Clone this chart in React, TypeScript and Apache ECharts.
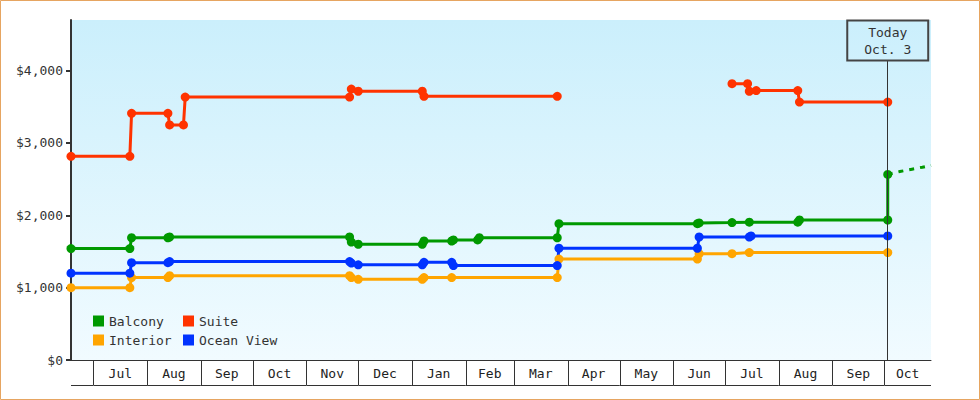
import React, { useEffect, useRef } from 'react';
import * as echarts from 'echarts';

const FONT = '"DejaVu Sans Mono", monospace';

const axisStart = '2012-06-18';
const axisEnd = '2013-10-28';
const todayDate = '2013-10-03';
const todayLabel = 'Today\nOct. 3';

const yTicks = [0, 1000, 2000, 3000, 4000];
const yMax = 4700;

const monthStarts = [
  '2012-06-01', '2012-07-01', '2012-08-01', '2012-09-01', '2012-10-01', '2012-11-01',
  '2012-12-01', '2013-01-01', '2013-02-01', '2013-03-01', '2013-04-01', '2013-05-01',
  '2013-06-01', '2013-07-01', '2013-08-01', '2013-09-01', '2013-10-01', '2013-11-01',
];
const monthLabels = ['Jun', 'Jul', 'Aug', 'Sep', 'Oct', 'Nov', 'Dec', 'Jan', 'Feb', 'Mar', 'Apr', 'May', 'Jun', 'Jul', 'Aug', 'Sep', 'Oct'];

const balcony: [string, number][] = [
  ['2012-06-18', 1540], ['2012-07-22', 1540], ['2012-07-23', 1690], ['2012-08-13', 1690],
  ['2012-08-14', 1700], ['2012-11-26', 1700], ['2012-11-27', 1630], ['2012-12-01', 1600],
  ['2013-01-07', 1600], ['2013-01-08', 1645], ['2013-01-24', 1645], ['2013-01-25', 1660],
  ['2013-02-08', 1660], ['2013-02-09', 1690], ['2013-03-26', 1690], ['2013-03-27', 1885],
  ['2013-06-15', 1885], ['2013-06-16', 1895], ['2013-07-05', 1900], ['2013-07-15', 1905],
  ['2013-08-12', 1905], ['2013-08-13', 1935], ['2013-10-03', 1935], ['2013-10-03', 2565],
];

const balconyForecast: [string, number][] = [
  ['2013-10-03', 2565], ['2013-10-10', 2605], ['2013-10-17', 2638], ['2013-10-23', 2665], ['2013-10-28', 2690],
];

const suite: [string, number | null][] = [
  ['2012-06-18', 2815], ['2012-07-22', 2815], ['2012-07-23', 3410], ['2012-08-13', 3410],
  ['2012-08-14', 3250], ['2012-08-22', 3250], ['2012-08-23', 3635], ['2012-11-26', 3635],
  ['2012-11-27', 3745], ['2012-12-01', 3715], ['2013-01-07', 3715], ['2013-01-08', 3645],
  ['2013-03-26', 3645], ['2013-05-01', null], ['2013-07-05', 3820], ['2013-07-14', 3820],
  ['2013-07-15', 3715], ['2013-07-19', 3725], ['2013-08-12', 3725], ['2013-08-13', 3565],
  ['2013-10-03', 3565],
];

const interior: [string, number][] = [
  ['2012-06-18', 1000], ['2012-07-22', 1000], ['2012-07-23', 1140], ['2012-08-13', 1140],
  ['2012-08-14', 1165], ['2012-11-26', 1165], ['2012-11-27', 1140], ['2012-12-01', 1115],
  ['2013-01-07', 1115], ['2013-01-08', 1140], ['2013-01-24', 1140], ['2013-03-26', 1140],
  ['2013-03-27', 1395], ['2013-06-15', 1395], ['2013-06-16', 1470], ['2013-07-05', 1470],
  ['2013-07-15', 1485], ['2013-10-03', 1485],
];

const oceanView: [string, number][] = [
  ['2012-06-18', 1200], ['2012-07-22', 1200], ['2012-07-23', 1345], ['2012-08-13', 1345],
  ['2012-08-14', 1360], ['2012-11-26', 1360], ['2012-11-27', 1340], ['2012-12-01', 1315],
  ['2013-01-07', 1315], ['2013-01-08', 1350], ['2013-01-24', 1350], ['2013-01-25', 1305],
  ['2013-03-26', 1305], ['2013-03-27', 1545], ['2013-06-15', 1545], ['2013-06-16', 1700],
  ['2013-07-15', 1700], ['2013-07-16', 1715], ['2013-10-03', 1715],
];

const COLORS = {
  Balcony: '#009900',
  Suite: '#ff3300',
  Interior: '#ffa500',
  'Ocean View': '#0033ff',
};

const ts = (s: string) => {
  const [y, m, d] = s.split('-').map(Number);
  return new Date(y, m - 1, d).getTime();
};

const toData = (arr: [string, number | null][]) => arr.map(([d, v]) => [ts(d), v]);

const lineSeries = (name: string, color: string, data: any[]) => ({
  name,
  type: 'line',
  data,
  symbol: 'circle',
  symbolSize: 9,
  showSymbol: true,
  showAllSymbol: true,
  connectNulls: false,
  lineStyle: { width: 3, color },
  itemStyle: { color },
  emphasis: { disabled: true },
  z: 3,
});

const legendBase = {
  orient: 'vertical',
  top: 314,
  itemWidth: 11,
  itemHeight: 11,
  itemGap: 5,
  icon: 'rect',
  padding: 0,
  selectedMode: false,
  textStyle: { fontFamily: FONT, fontSize: 13, color: '#333', lineHeight: 14 },
};

export default function App() {
  const ref = useRef<HTMLDivElement>(null);

  useEffect(() => {
    if (!ref.current) return;
    const chart = echarts.init(ref.current, undefined, { renderer: 'svg' });
    const option: any = {
      animation: false,
      backgroundColor: '#ffffff',
      grid: {
        left: 71,
        top: 20,
        right: 49,
        bottom: 40,
        containLabel: false,
        outerBoundsMode: 'none',
        show: true,
        borderWidth: 0,
        backgroundColor: new echarts.graphic.LinearGradient(0, 0, 0, 1, [
          { offset: 0, color: '#cbeffc' },
          { offset: 1, color: '#f1fbff' },
        ]),
      },
      legend: [
        { ...legendBase, left: 93, data: ['Balcony', 'Interior'] },
        { ...legendBase, left: 183, data: ['Suite', 'Ocean View'] },
      ],
      xAxis: {
        type: 'time',
        min: ts(axisStart),
        max: ts(axisEnd),
        axisLine: { show: true, lineStyle: { color: '#333', width: 1 } },
        axisTick: { show: false },
        axisLabel: { show: false },
        splitLine: { show: false },
      },
      yAxis: {
        type: 'value',
        min: 0,
        max: yMax,
        interval: 1000,
        axisLine: { show: true, lineStyle: { color: '#333', width: 2 } },
        axisTick: { show: true, length: 5, lineStyle: { color: '#333', width: 2 }, customValues: yTicks },
        axisLabel: {
          customValues: yTicks,
          margin: 8,
          color: '#333',
          fontFamily: FONT,
          fontSize: 13,
          formatter: (v: number) => (v % 1000 === 0 ? '$' + v.toLocaleString('en-US') : ''),
        },
        splitLine: { show: false },
      },
      graphic: [
        {
          type: 'rect',
          silent: true,
          z: 100,
          shape: { x: 0.5, y: 0.5, width: 979, height: 399 },
          style: { fill: 'none', stroke: '#e6a561', lineWidth: 1 },
        },
      ],
      series: [
        {
          type: 'custom',
          silent: true,
          clip: false,
          z: 1,
          encode: { x: [0, 1], y: 2 },
          data: monthLabels.map((_, i) => [ts(monthStarts[i]), ts(monthStarts[i + 1]), 0]),
          renderItem: (params: any, api: any) => {
            const cs = params.coordSys;
            const s = api.coord([api.value(0), 0]);
            const e = api.coord([api.value(1), 0]);
            const left = Math.max(s[0], cs.x);
            const right = Math.min(e[0], cs.x + cs.width);
            if (right <= left) return null;
            const y0 = cs.y + cs.height;
            const children: any[] = [];
            if (s[0] >= cs.x) {
              const sx = Math.round(s[0]) + 0.5;
              children.push({
                type: 'line',
                shape: { x1: sx, y1: y0, x2: sx, y2: y0 + 25 },
                style: { stroke: '#333', lineWidth: 1 },
              });
            }
            children.push({
              type: 'line',
              shape: { x1: left, y1: Math.round(y0 + 25) + 0.5, x2: right, y2: Math.round(y0 + 25) + 0.5 },
              style: { stroke: '#333', lineWidth: 1 },
            });
            if (right - left > 30) {
              children.push({
                type: 'text',
                style: {
                  text: monthLabels[params.dataIndex],
                  x: (left + right) / 2,
                  y: y0 + 13,
                  align: 'center',
                  verticalAlign: 'middle',
                  fontFamily: FONT,
                  fontSize: 13,
                  fill: '#222',
                },
              });
            }
            return { type: 'group', children };
          },
        },
        lineSeries('Interior', COLORS.Interior, toData(interior)),
        lineSeries('Ocean View', COLORS['Ocean View'], toData(oceanView)),
        lineSeries('Balcony', COLORS.Balcony, toData(balcony)),
        lineSeries('Suite', COLORS.Suite, toData(suite)),
        {
          name: 'Balcony forecast',
          type: 'line',
          data: toData(balconyForecast),
          symbol: 'none',
          lineStyle: { width: 3, color: COLORS.Balcony, type: [5, 6] },
          itemStyle: { color: COLORS.Balcony },
          emphasis: { disabled: true },
          z: 2,
          markLine: {
            silent: true,
            symbol: ['none', 'none'],
            animation: false,
            lineStyle: { color: '#333', width: 1, type: 'solid' },
            label: {
              show: true,
              position: 'end',
              distance: 0,
              formatter: todayLabel,
              color: '#333',
              fontFamily: FONT,
              fontSize: 13,
              lineHeight: 17,
              padding: [3, 17],
              backgroundColor: 'transparent',
              borderColor: '#444',
              borderWidth: 1,
            },
            emphasis: { disabled: true },
            data: [[{ coord: [ts(todayDate), 0] }, { coord: [ts(todayDate), 4140] }]],
          },
        },
      ],
    };
    chart.setOption(option);
    return () => chart.dispose();
  }, []);

  return <div ref={ref} style={{ position: 'fixed', left: 0, top: 0, width: 980, height: 400 }} />;
}
